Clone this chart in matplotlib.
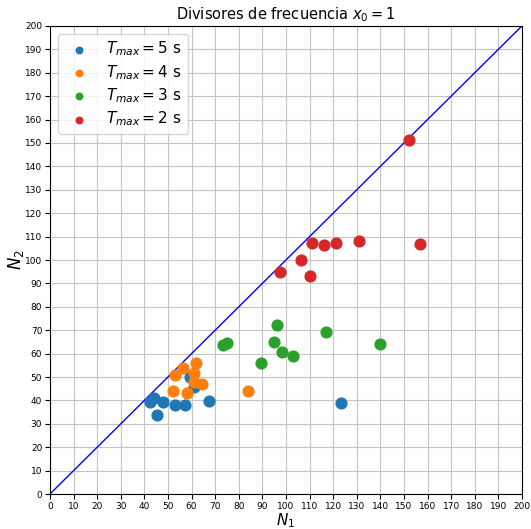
import numpy as np
import matplotlib
matplotlib.use('Agg')
import matplotlib.pyplot as plt

# N1, N2 para cada T_max
n1_t5 = [42.4, 44.1, 48.0, 45.2, 53.1, 57.2, 59.3, 61.0, 67.2, 123.2]
n2_t5 = [39.4, 40.9, 39.2, 33.8, 38.0, 38.0, 49.9, 45.9, 39.9, 39.0]

n1_t4 = [53.2, 56.2, 62.1, 61.2, 61.2, 64.3, 52.0, 58.2, 84.0]
n2_t4 = [50.9, 53.7, 55.8, 51.8, 48.0, 47.0, 44.0, 43.0, 44.0]

n1_t3 = [73.4, 75.1, 89.3, 96.1, 95.0, 98.2, 103.1, 116.9, 139.8]
n2_t3 = [63.7, 64.7, 56.1, 72.2, 65.1, 60.8, 59.1, 69.1, 64.1]

n1_t2 = [97.5, 106.2, 110.2, 111.0, 116.0, 121.2, 131.1, 156.9, 152.0]
n2_t2 = [95.0, 100.0, 93.2, 107.1, 106.3, 107.1, 108.1, 107.0, 151.3]

etiquetas = [r'$T_{max} = 5$ s', r'$T_{max} = 4$ s', r'$T_{max} = 3$ s', r'$T_{max} = 2$ s']

fig = plt.figure(figsize=(5.31, 5.29), dpi=100)
ax = fig.add_axes([0.094, 0.066, 0.889, 0.885])

series = [(n1_t5, n2_t5), (n1_t4, n2_t4), (n1_t3, n2_t3), (n1_t2, n2_t2)]
for (x, y), lab in zip(series, etiquetas):
    ax.scatter(x, y, s=60, label=lab, zorder=3)

# recta N2 = N1
ax.plot([0, 200], [0, 200], color='blue', lw=1, zorder=2)

ax.set_xlim(0, 200)
ax.set_ylim(0, 200)
ax.set_xticks(np.arange(0, 201, 10))
ax.set_yticks(np.arange(0, 201, 10))
ax.tick_params(labelsize=6.5, pad=2)
ax.grid(True, color='#c4c4c4', lw=0.8)

ax.set_title(r'Divisores de frecuencia $x_0 = 1$', fontsize=10.5, pad=5)
ax.set_xlabel(r'$N_1$', fontsize=11)
ax.xaxis.set_label_coords(0.5, -0.037)
ax.set_ylabel(r'$N_2$', fontsize=12, labelpad=-1)
ax.legend(loc='upper left', fontsize=11, markerscale=0.6, borderaxespad=0.5,
          labelspacing=0.3)

fig.savefig('out.png')
